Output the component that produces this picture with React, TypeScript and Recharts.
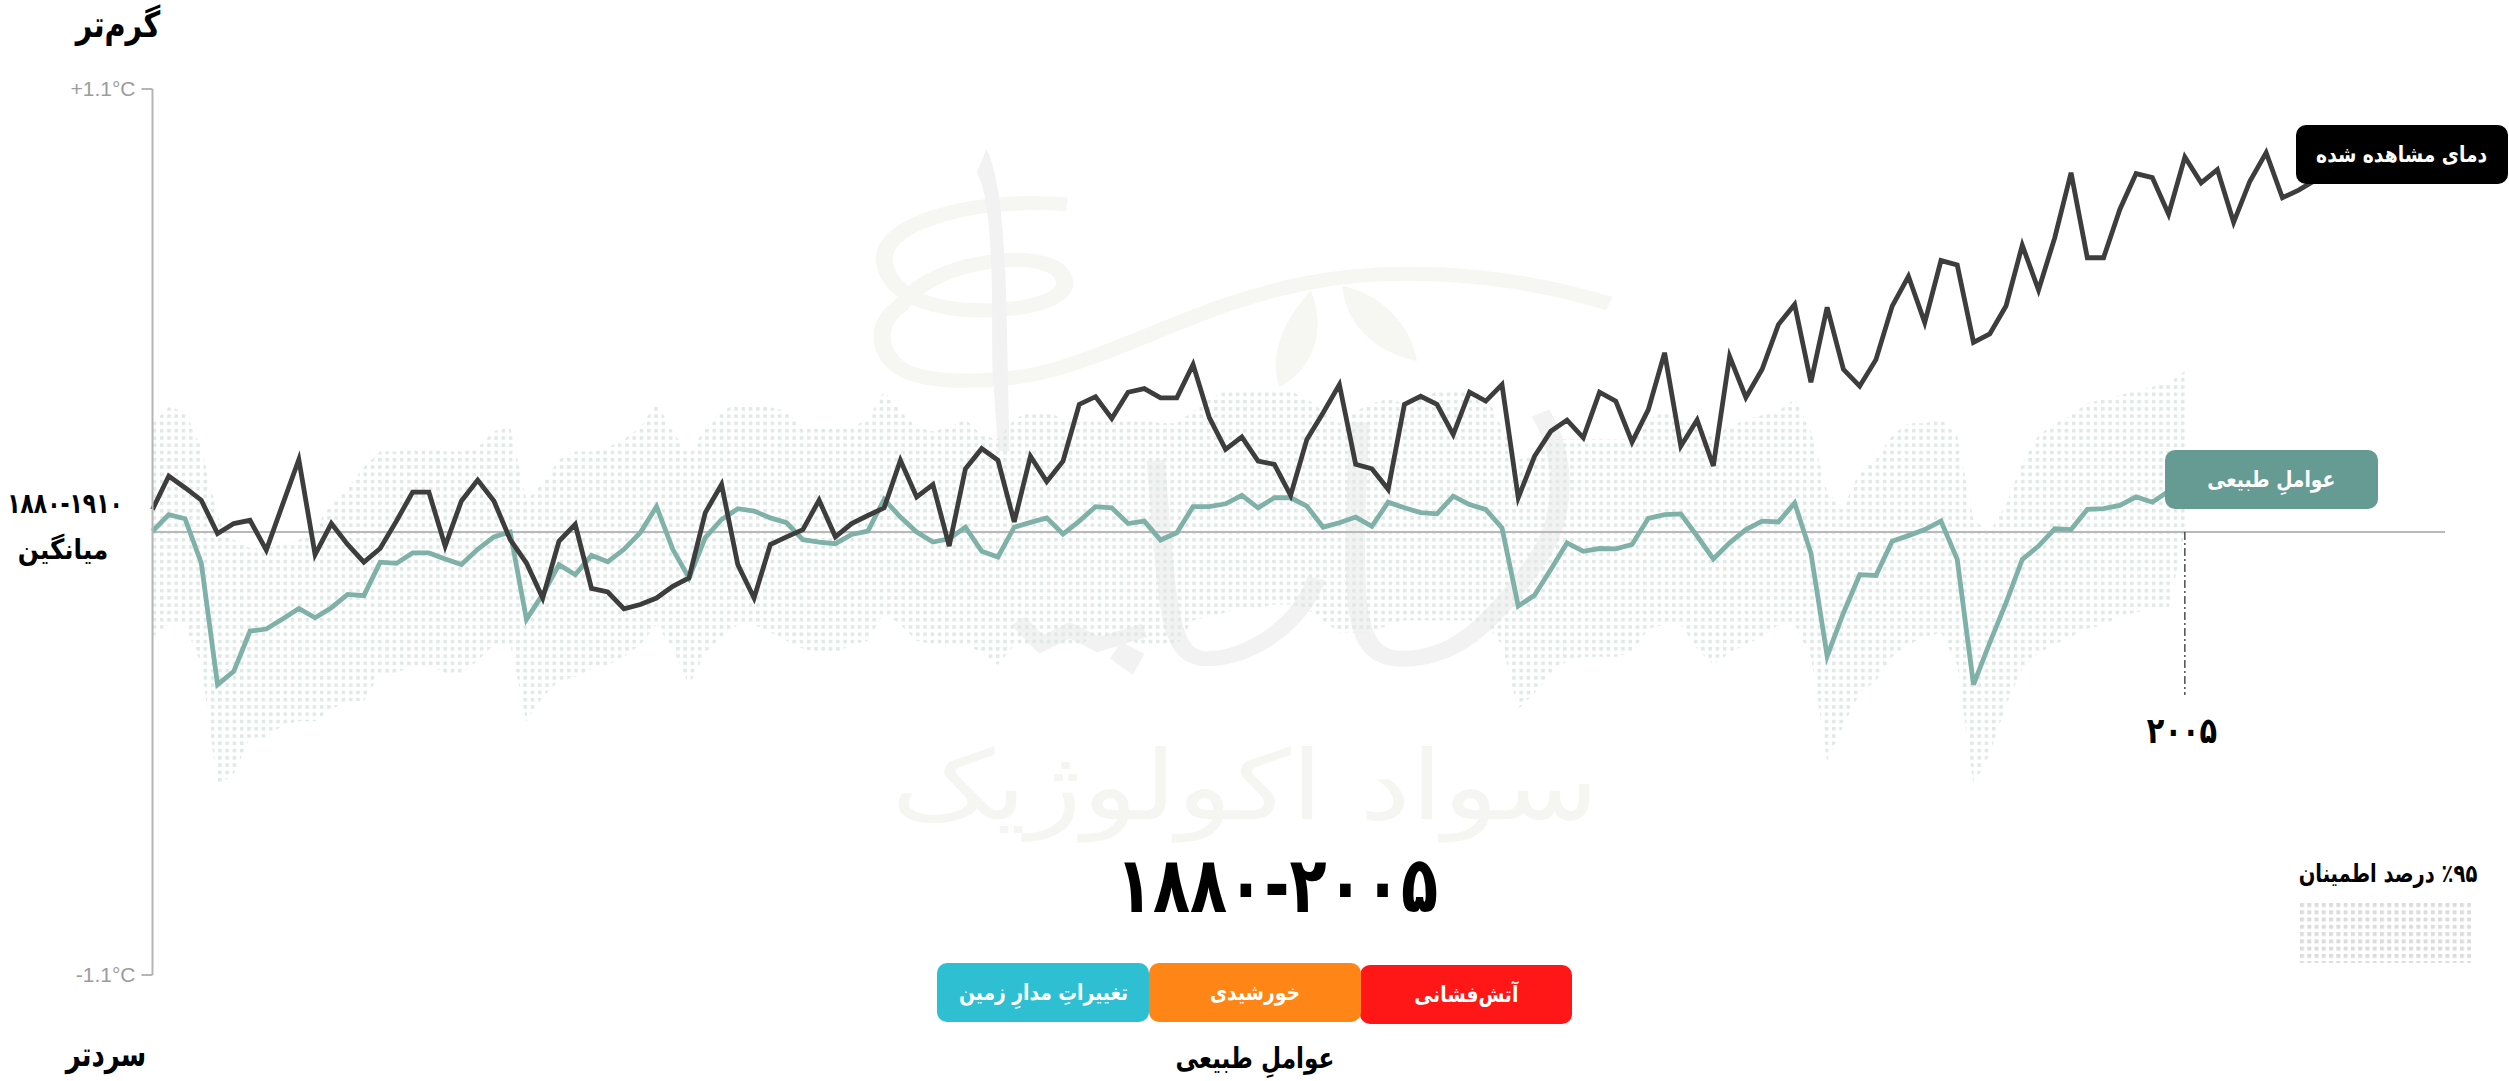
import { Area, ComposedChart, Line, ReferenceLine, XAxis, YAxis } from "recharts"

const firstYear = 1880
const lastYear = 2021

// global temperature anomaly, 1880 onwards (deg C)
const observed = [
  0.056, 0.139, 0.110, 0.079, -0.004, 0.021, 0.029, -0.045, 0.068, 0.180,
  -0.056, 0.021, -0.031, -0.075, -0.041, 0.027, 0.099, 0.099, -0.035, 0.077,
  0.129, 0.077, -0.019, -0.077, -0.164, -0.023, 0.019, -0.140, -0.149, -0.191,
  -0.180, -0.164, -0.135, -0.114, 0.048, 0.118, -0.081, -0.164, -0.031, -0.012,
  0.006, 0.079, -0.012, 0.021, 0.041, 0.060, 0.178, 0.087, 0.118, -0.035,
  0.157, 0.207, 0.178, 0.025, 0.188, 0.125, 0.176, 0.317, 0.336, 0.282,
  0.347, 0.356, 0.333, 0.333, 0.416, 0.284, 0.205, 0.236, 0.176, 0.168,
  0.091, 0.230, 0.296, 0.366, 0.168, 0.157, 0.106, 0.317, 0.337, 0.317,
  0.242, 0.347, 0.325, 0.366, 0.085, 0.188, 0.250, 0.278, 0.234, 0.347,
  0.325, 0.223, 0.304, 0.445, 0.213, 0.278, 0.164, 0.436, 0.334, 0.404,
  0.515, 0.565, 0.372, 0.558, 0.404, 0.362, 0.428, 0.561, 0.635, 0.520,
  0.674, 0.663, 0.471, 0.492, 0.561, 0.712, 0.601, 0.731, 0.892, 0.681,
  0.681, 0.801, 0.890, 0.880, 0.789, 0.931, 0.867, 0.900, 0.769, 0.871,
  0.942, 0.830, 0.849, 0.873,
]

// natural factors only, stops at 2005
const natural = [
  0.002, 0.043, 0.033, -0.077, -0.379, -0.346, -0.246, -0.241, -0.216, -0.190,
  -0.213, -0.188, -0.155, -0.158, -0.075, -0.078, -0.052, -0.052, -0.067, -0.081,
  -0.043, -0.012, 0.000, -0.217, -0.155, -0.081, -0.106, -0.058, -0.074, -0.043,
  -0.002, 0.063, -0.043, -0.114, -0.014, 0.031, 0.058, 0.052, 0.035, 0.023,
  -0.019, -0.025, -0.029, -0.006, 0.002, 0.081, 0.037, 0.000, -0.025, -0.017,
  0.012, -0.048, -0.062, 0.012, 0.024, 0.035, -0.005, 0.027, 0.063, 0.060,
  0.021, 0.027, -0.020, -0.002, 0.063, 0.063, 0.070, 0.091, 0.060, 0.085,
  0.085, 0.064, 0.012, 0.023, 0.037, 0.014, 0.074, 0.060, 0.048, 0.045,
  0.089, 0.068, 0.056, 0.010, -0.184, -0.157, -0.093, -0.027, -0.048, -0.041,
  -0.042, -0.031, 0.034, 0.043, 0.045, -0.010, -0.067, -0.027, 0.006, 0.027,
  0.025, 0.072, -0.052, -0.308, -0.201, -0.106, -0.108, -0.023, -0.009, 0.006,
  0.027, -0.068, -0.379, -0.275, -0.176, -0.068, -0.035, 0.008, 0.006, 0.056,
  0.058, 0.066, 0.087, 0.074, 0.101, 0.110,
]

// 95% confidence band
const bandHigh = [
  0.27, 0.31, 0.30, 0.21, 0.04, -0.02, -0.04, -0.04, -0.03, -0.02,
  0.01, 0.07, 0.11, 0.16, 0.20, 0.20, 0.21, 0.21, 0.20, 0.20,
  0.21, 0.25, 0.26, 0.08, 0.12, 0.18, 0.20, 0.20, 0.21, 0.23,
  0.26, 0.32, 0.25, 0.19, 0.26, 0.30, 0.32, 0.32, 0.31, 0.30,
  0.26, 0.26, 0.26, 0.26, 0.28, 0.35, 0.30, 0.26, 0.25, 0.26,
  0.28, 0.24, 0.23, 0.28, 0.30, 0.30, 0.28, 0.28, 0.28, 0.28,
  0.28, 0.28, 0.27, 0.27, 0.30, 0.33, 0.35, 0.35, 0.35, 0.35,
  0.35, 0.33, 0.30, 0.27, 0.30, 0.32, 0.33, 0.32, 0.33, 0.35,
  0.35, 0.35, 0.34, 0.26, 0.18, 0.19, 0.23, 0.23, 0.23, 0.23,
  0.23, 0.23, 0.28, 0.30, 0.28, 0.26, 0.24, 0.26, 0.28, 0.29,
  0.30, 0.33, 0.25, 0.10, 0.06, 0.15, 0.18, 0.24, 0.27, 0.27,
  0.28, 0.24, 0.03, 0.00, 0.07, 0.17, 0.24, 0.27, 0.29, 0.32,
  0.33, 0.34, 0.35, 0.36, 0.37, 0.40,
]
const bandLow = [
  -0.26, -0.23, -0.23, -0.33, -0.63, -0.60, -0.51, -0.51, -0.48, -0.47,
  -0.47, -0.44, -0.42, -0.42, -0.35, -0.35, -0.33, -0.33, -0.35, -0.35,
  -0.32, -0.28, -0.28, -0.47, -0.41, -0.37, -0.36, -0.34, -0.33, -0.31,
  -0.28, -0.23, -0.29, -0.38, -0.30, -0.26, -0.23, -0.23, -0.25, -0.27,
  -0.29, -0.30, -0.30, -0.28, -0.27, -0.20, -0.23, -0.27, -0.28, -0.28,
  -0.28, -0.30, -0.33, -0.28, -0.28, -0.28, -0.28, -0.28, -0.26, -0.26,
  -0.27, -0.28, -0.28, -0.28, -0.22, -0.21, -0.20, -0.19, -0.19, -0.18,
  -0.18, -0.19, -0.22, -0.25, -0.25, -0.25, -0.23, -0.22, -0.22, -0.22,
  -0.22, -0.22, -0.23, -0.28, -0.44, -0.40, -0.35, -0.32, -0.31, -0.31,
  -0.31, -0.30, -0.24, -0.23, -0.23, -0.29, -0.33, -0.30, -0.28, -0.26,
  -0.23, -0.23, -0.31, -0.57, -0.48, -0.40, -0.37, -0.31, -0.28, -0.26,
  -0.25, -0.33, -0.63, -0.55, -0.43, -0.34, -0.30, -0.28, -0.26, -0.24,
  -0.23, -0.21, -0.20, -0.19, -0.19, 0.00,
]

const yTicks = [-1.1, 1.1]
const factorNames = ["آتش\u200cفشانی", "خورشیدی", "تغییراتِ مدارِ زمین"]

const data = observed.map((value, i) => ({
  year: firstYear + i,
  observed: value,
  natural: i < natural.length ? natural[i] : null,
  band: i < bandLow.length ? [bandLow[i], bandHigh[i]] : null,
}))

const fa = '"DejaVu Sans", sans-serif'
const factorLeft = [1360, 1149, 937]
const factorTop = [965, 963, 963]
const factorColors = ["#ff1616", "#ff8616", "#2ec0d2"]

// DejaVu is wider than the reference's face, so sx squeezes it horizontally
function Txt({ x, y, size, children, color = "#000", ltr = false, sx = 1, weight = 700 }: any) {
  return (
    <div
      dir={ltr ? "ltr" : "rtl"}
      style={{
        position: "absolute", left: x, top: y, transform: `translate(-50%, -50%) scaleX(${sx})`,
        fontFamily: fa, fontWeight: weight, fontSize: size, color, whiteSpace: "nowrap", lineHeight: 1,
      }}
    >
      {children}
    </div>
  )
}

function Chip({ left, top, width, height, color, size = 22, sx = 0.85, children }: any) {
  return (
    <div
      dir="rtl"
      style={{
        position: "absolute", left, top, width, height, background: color, borderRadius: 10,
        display: "flex", alignItems: "center", justifyContent: "center",
        fontFamily: fa, fontWeight: 700, fontSize: size, color: "#fff", whiteSpace: "nowrap",
      }}
    >
      <span style={{ display: "inline-block", transform: `scaleX(${sx})` }}>{children}</span>
    </div>
  )
}

// faint logo behind the plot
function Watermark() {
  const light = "#f6f7f2"
  const grey = "#f2f2f3"
  return (
    <>
      <svg
        style={{ position: "absolute", left: 800, top: 130 }}
        width={900}
        height={740}
        viewBox="0 0 1568 1568"
        preserveAspectRatio="none"
        fill="none"
      >
        <path
          d="M465 158 C300 140 130 200 148 285 C160 360 250 385 330 382 C430 378 470 345 460 315 C450 280 400 270 340 278 C280 285 210 315 175 372 C130 410 135 470 175 505 C220 540 350 540 450 505 C600 450 700 370 880 325 C1000 295 1200 290 1410 368"
          stroke={light}
          strokeWidth={30}
        />
        <path d="M890 340 C830 420 820 490 835 545 C890 510 920 430 890 340 Z" fill={light} />
        <path d="M945 330 C950 410 1000 470 1075 490 C1065 420 1020 350 945 330 Z" fill={light} />
        <path d="M325 40 L308 90 C335 150 335 300 335 500 L345 680 L365 680 L360 400 C358 250 350 100 325 40 Z" fill={grey} />
        <path d="M620 700 C640 1000 640 1110 700 1120 C780 1125 870 1050 900 950" stroke={grey} strokeWidth={32} />
        <path d="M975 620 C960 1000 960 1110 1040 1120 C1120 1125 1190 1080 1290 900 C1340 800 1330 680 1290 600" stroke={grey} strokeWidth={34} />
        <path d="M380 1040 L420 1090 L470 1060 L520 1090 L600 1060" stroke={grey} strokeWidth={30} />
        <path d="M540 1120 L580 1155 L600 1110 L560 1085 Z" fill={grey} />
      </svg>
      <Txt x={1245} y={786} size={96} sx={1.2} color="#f5f6f1" weight={400}>سواد اکولوژیک</Txt>
    </>
  )
}

export default function App() {
  return (
    <div style={{ position: "absolute", left: 0, top: 0, width: 2509, height: 1081, background: "#fff", overflow: "hidden" }}>
      <Watermark />

      <div style={{ position: "absolute", left: 0, top: 0 }}>
        <ComposedChart
          width={2509}
          height={1081}
          data={data}
          margin={{ top: 89, right: 64, bottom: 106, left: 72 }}
        >
          <defs>
            <pattern id="dots" patternUnits="userSpaceOnUse" width={7.27} height={7.27}>
              <rect width={3.5} height={3.5} fill="#dfe9e6" />
            </pattern>
          </defs>
          <XAxis dataKey="year" type="number" domain={[firstYear, lastYear]} hide />
          <YAxis
            width={80.5}
            domain={[-1.1, 1.1]}
            ticks={yTicks}
            interval={0}
            tickSize={11}
            tickMargin={6}
            stroke="#b5b5b5"
            strokeWidth={2}
            tick={{ fontFamily: '"Liberation Sans"', fontSize: 21, fill: "#9c9c9c" }}
            tickFormatter={(v: number) => (v > 0 ? `+${v}°C` : `${v}°C`)}
          />
          <Area
            dataKey="band"
            type="linear"
            stroke="none"
            fill="url(#dots)"
            fillOpacity={1}
            dot={false}
            activeDot={false}
            isAnimationActive={false}
          />
          <ReferenceLine y={0} stroke="#b9b9b9" strokeWidth={2} />
          <ReferenceLine
            segment={[{ x: 2005, y: 0 }, { x: 2005, y: -0.405 }]}
            stroke="#222"
            strokeWidth={1.2}
            strokeDasharray="8 3 2 3"
          />
          <Line
            dataKey="natural"
            type="linear"
            stroke="#7fb1a8"
            strokeWidth={4.8}
            strokeLinejoin="miter"
            dot={false}
            activeDot={false}
            isAnimationActive={false}
          />
          <Line
            dataKey="observed"
            type="linear"
            stroke="#3d3d3d"
            strokeWidth={4.8}
            strokeLinejoin="miter"
            dot={false}
            activeDot={false}
            isAnimationActive={false}
          />
        </ComposedChart>
      </div>

      <Chip left={2296} top={125} width={212} height={59} color="#000">دمای مشاهده شده</Chip>
      <Chip left={2165} top={450} width={213} height={59} color="#669b93">عواملِ طبیعی</Chip>

      {factorNames.map((name, i) => (
        <Chip key={name} left={factorLeft[i]} top={factorTop[i]} width={212} height={59} color={factorColors[i]}>{name}</Chip>
      ))}

      <Txt x={118} y={25} size={36} sx={0.8}>گرم{"\u200c"}تر</Txt>
      <Txt x={106} y={1054} size={34} sx={0.76}>سردتر</Txt>
      <Txt x={65} y={504} size={28} sx={0.78} ltr>۱۸۸۰-۱۹۱۰</Txt>
      <Txt x={63} y={550} size={28} sx={0.88}>میانگین</Txt>
      <Txt x={2182} y={731} size={36} sx={0.8} ltr>۲۰۰۵</Txt>
      <Txt x={1277} y={885} size={78} sx={0.78} ltr>۱۸۸۰-۲۰۰۵</Txt>
      <Txt x={1255} y={1058} size={29} sx={0.8}>عواملِ طبیعی</Txt>
      <Txt x={2388} y={873} size={25} sx={0.78}>٪۹۵ درصد اطمینان</Txt>

      <svg style={{ position: "absolute", left: 2300, top: 903 }} width={171} height={60}>
        <defs>
          <pattern id="dotsLegend" patternUnits="userSpaceOnUse" width={7.27} height={7.27}>
            <rect width={4} height={4} fill="#dcdcdc" />
          </pattern>
        </defs>
        <rect width={171} height={60} fill="url(#dotsLegend)" />
      </svg>
    </div>
  )
}
